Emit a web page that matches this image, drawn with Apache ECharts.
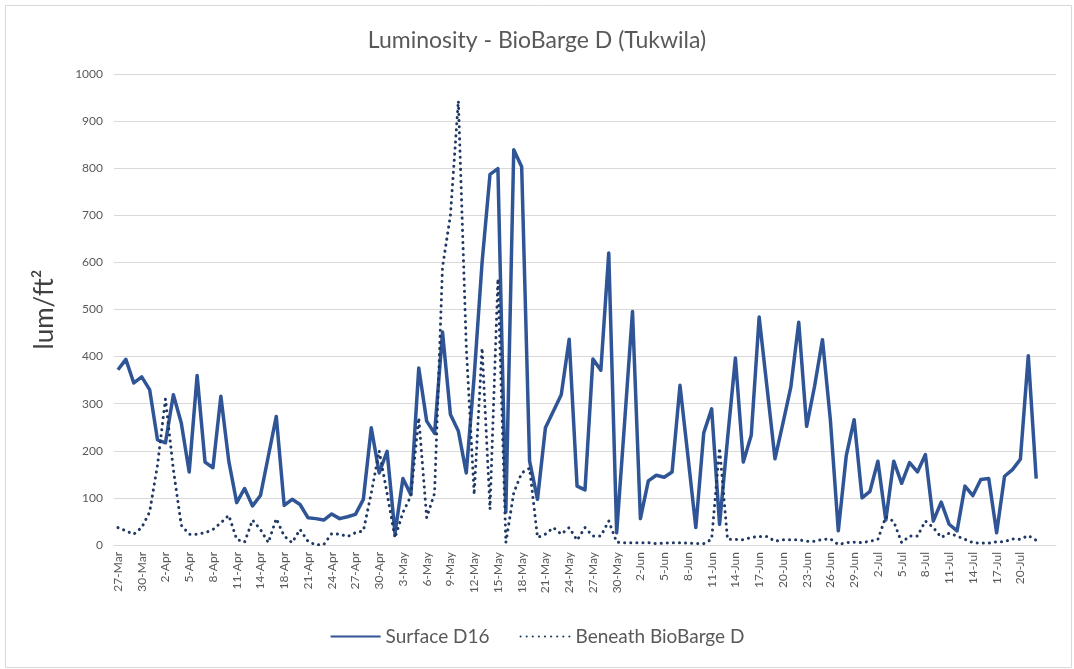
<!DOCTYPE html>
<html>
<head>
<meta charset="utf-8">
<script src="https://cdn.jsdelivr.net/npm/echarts@6/dist/echarts.min.js"></script>
<style>
  html, body { margin: 0; padding: 0; background: #fff; }
  #chart { width: 1074px; height: 669px; }
</style>
</head>
<body>
<div id="chart"></div>
<script>
  // one date (16-Apr) is missing from the source sheet; last two categories are empty slots
  var dates = [
    '27-Mar', '28-Mar', '29-Mar', '30-Mar', '31-Mar',
    '1-Apr', '2-Apr', '3-Apr', '4-Apr', '5-Apr', '6-Apr', '7-Apr', '8-Apr', '9-Apr', '10-Apr',
    '11-Apr', '12-Apr', '13-Apr', '14-Apr', '15-Apr', '17-Apr', '18-Apr', '19-Apr', '20-Apr',
    '21-Apr', '22-Apr', '23-Apr', '24-Apr', '25-Apr', '26-Apr', '27-Apr', '28-Apr', '29-Apr', '30-Apr',
    '1-May', '2-May', '3-May', '4-May', '5-May', '6-May', '7-May', '8-May', '9-May', '10-May',
    '11-May', '12-May', '13-May', '14-May', '15-May', '16-May', '17-May', '18-May', '19-May', '20-May',
    '21-May', '22-May', '23-May', '24-May', '25-May', '26-May', '27-May', '28-May', '29-May', '30-May', '31-May',
    '1-Jun', '2-Jun', '3-Jun', '4-Jun', '5-Jun', '6-Jun', '7-Jun', '8-Jun', '9-Jun', '10-Jun',
    '11-Jun', '12-Jun', '13-Jun', '14-Jun', '15-Jun', '16-Jun', '17-Jun', '18-Jun', '19-Jun', '20-Jun',
    '21-Jun', '22-Jun', '23-Jun', '24-Jun', '25-Jun', '26-Jun', '27-Jun', '28-Jun', '29-Jun', '30-Jun',
    '1-Jul', '2-Jul', '3-Jul', '4-Jul', '5-Jul', '6-Jul', '7-Jul', '8-Jul', '9-Jul', '10-Jul',
    '11-Jul', '12-Jul', '13-Jul', '14-Jul', '15-Jul', '16-Jul', '17-Jul', '18-Jul', '19-Jul', '20-Jul',
    '21-Jul', '22-Jul', '23-Jul', '24-Jul'
  ];

  var surfaceD16 = [
    372, 394, 344, 357, 330, 223, 217, 319, 259, 155,
    360, 176, 164, 316, 178, 90, 120, 83, 105, 189,
    273, 84, 97, 86, 58, 56, 53, 66, 56, 60,
    65, 97, 249, 153, 199, 25, 141, 107, 376, 263,
    237, 452, 277, 242, 153, 358, 600, 787, 799, 70,
    839, 803, 178, 97, 249, 284, 319, 437, 125, 117,
    395, 371, 620, 26, 260, 496, 56, 136, 148, 144,
    155, 339, 189, 37, 238, 289, 44, 224, 397, 176,
    233, 484, 334, 183, 258, 335, 473, 252, 337, 436,
    265, 30, 189, 266, 100, 114, 178, 53, 178, 131,
    175, 155, 192, 51, 91, 44, 30, 125, 105, 139,
    141, 26, 146, 160, 182, 402, 141, null, null
  ];

  var beneathD = [
    37, 30, 23, 37, 70, 170, 310, 160, 42, 23,
    23, 26, 33, 47, 63, 12, 6, 53, 33, 5,
    56, 19, 5, 33, 8, 0, 1, 24, 23, 18,
    26, 30, 110, 200, 110, 15, 69, 104, 270, 58,
    110, 590, 700, 943, 420, 107, 418, 76, 565, 5,
    111, 153, 163, 16, 23, 37, 23, 37, 10, 37,
    19, 19, 51, 6, 5, 5, 5, 5, 3, 4,
    5, 5, 4, 3, 3, 12, 206, 12, 12, 11,
    16, 18, 18, 8, 11, 11, 11, 8, 8, 12,
    13, 1, 5, 6, 5, 8, 12, 60, 50, 5,
    19, 19, 51, 37, 16, 25, 19, 12, 5, 4,
    4, 7, 7, 13, 12, 20, 10, null, null
  ];

  var chart = echarts.init(document.getElementById('chart'));
  var font = 'Lato, "Open Sans", sans-serif';

  var option = {
    backgroundColor: '#fff',
    animation: false,
    textStyle: { fontFamily: font },
    title: {
      text: 'Luminosity - BioBarge D (Tukwila)',
      left: 'center',
      top: 24,
      textStyle: { fontSize: 23, fontWeight: 'normal', color: '#595959', fontFamily: font }
    },
    graphic: [{
      type: 'rect',
      left: 3, top: 3,
      shape: { width: 1066, height: 662 },
      style: { fill: 'none', stroke: '#D9D9D9', lineWidth: 1 },
      silent: true
    }],
    legend: {
      bottom: 18,
      left: 'center',
      itemWidth: 50,
      itemHeight: 10,
      itemGap: 30,
      itemStyle: { opacity: 0 },
      textStyle: { fontSize: 19, color: '#595959', fontFamily: font },
      data: ['Surface D16', 'Beneath BioBarge D']
    },
    grid: { left: 114, right: 18, top: 74, bottom: 124 },
    xAxis: {
      type: 'category',
      data: dates,
      boundaryGap: true,
      axisLine: { lineStyle: { color: '#D9D9D9' } },
      axisTick: { show: false },
      axisLabel: {
        rotate: 90,
        fontSize: 12,
        color: '#595959',
        margin: 7,
        interval: function (idx) { return idx % 3 === 0 && idx <= 114; }
      }
    },
    yAxis: {
      type: 'value',
      min: 0,
      max: 1000,
      interval: 100,
      name: 'lum/ft\u00B2',
      nameLocation: 'middle',
      nameGap: 56,
      nameTextStyle: { fontSize: 26, color: '#404040', fontFamily: font },
      axisLine: { show: false },
      axisTick: { show: false },
      axisLabel: {
        fontSize: 12,
        color: '#595959',
        margin: 11,
        formatter: function (v) { return String(v); }
      },
      splitLine: { lineStyle: { color: '#D9D9D9' } }
    },
    series: [
      {
        name: 'Surface D16',
        type: 'line',
        data: surfaceD16,
        symbol: 'none',
        lineStyle: { color: '#2F5597', width: 3.5, join: 'round' },
        itemStyle: { color: '#2F5597' }
      },
      {
        name: 'Beneath BioBarge D',
        type: 'line',
        data: beneathD,
        symbol: 'none',
        lineStyle: { color: '#1F3864', width: 3, type: [0.1, 6], cap: 'round', join: 'round' },
        itemStyle: { color: '#1F3864' }
      }
    ]
  };

  chart.setOption(option);
  window.addEventListener('resize', function () { chart.resize(); });
</script>
</body>
</html>
